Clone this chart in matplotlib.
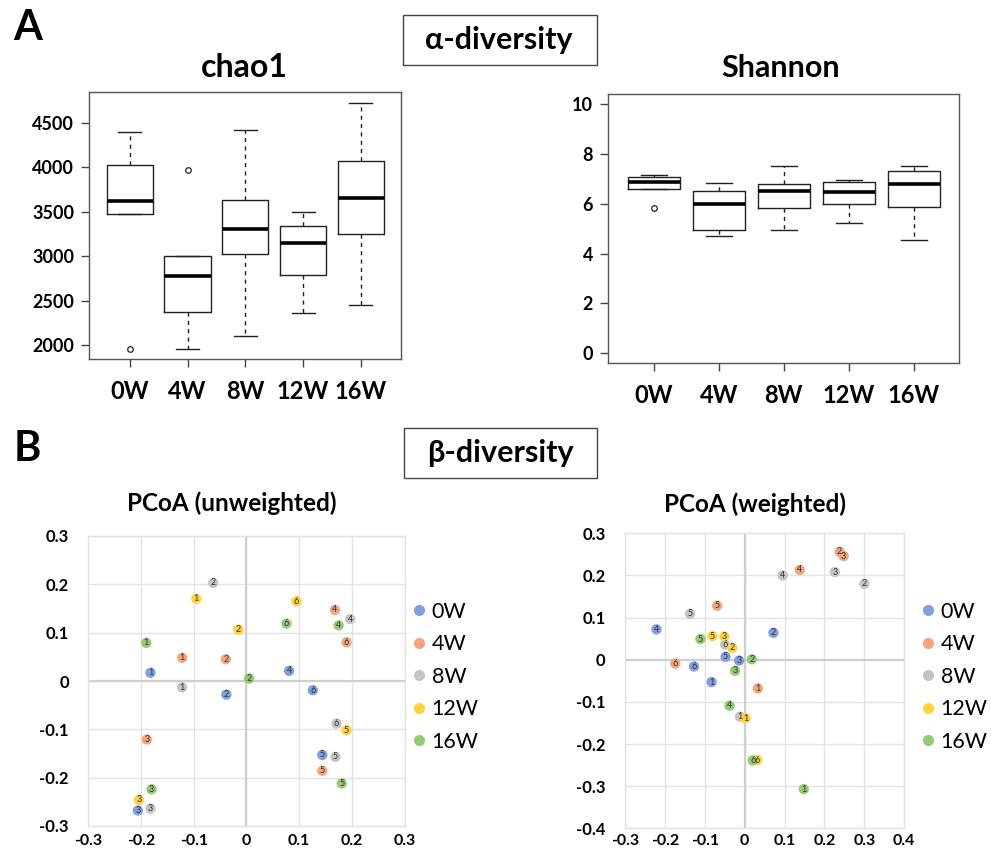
import matplotlib
matplotlib.use('Agg')
import matplotlib.pyplot as plt
from matplotlib.lines import Line2D
from matplotlib.patches import Rectangle

plt.rcParams['font.family'] = ['Lato', 'DejaVu Sans']

# ---------------- data ----------------
weeks = ['0W', '4W', '8W', '12W', '16W']

# chao1 box statistics
chao1_whislo = [3471, 1959, 2101, 2359, 2449]
chao1_q1 = [3471, 2371, 3022, 2790, 3254]
chao1_med = [3621, 2782, 3306, 3145, 3658]
chao1_q3 = [4021, 3007, 3632, 3336, 4074]
chao1_whishi = [4392, 3007, 4414, 3497, 4725]
chao1_fliers = [[1959], [3965], [], [], []]

# Shannon box statistics
shan_whislo = [6.58, 4.72, 4.93, 5.24, 4.54]
shan_q1 = [6.58, 4.96, 5.82, 5.97, 5.86]
shan_med = [6.88, 5.97, 6.50, 6.47, 6.81]
shan_q3 = [7.09, 6.49, 6.80, 6.89, 7.31]
shan_whishi = [7.17, 6.84, 7.53, 6.94, 7.51]
shan_fliers = [[5.82], [], [], [], []]

# PCoA (unweighted)
unw_0W_id = [1, 2, 3, 4, 5, 6]
unw_0W_x = [-0.182, -0.038, -0.206, 0.081, 0.144, 0.126]
unw_0W_y = [0.017, -0.028, -0.268, 0.021, -0.153, -0.019]
unw_4W_id = [1, 2, 3, 4, 5, 6]
unw_4W_x = [-0.122, -0.039, -0.189, 0.168, 0.144, 0.190]
unw_4W_y = [0.048, 0.045, -0.121, 0.147, -0.186, 0.080]
unw_8W_id = [1, 2, 3, 4, 5, 6]
unw_8W_x = [-0.122, -0.063, -0.182, 0.197, 0.169, 0.171]
unw_8W_y = [-0.013, 0.203, -0.264, 0.128, -0.157, -0.088]
unw_12W_id = [1, 2, 3, 5, 6]
unw_12W_x = [-0.095, -0.015, -0.204, 0.190, 0.095]
unw_12W_y = [0.170, 0.106, -0.246, -0.102, 0.165]
unw_16W_id = [1, 2, 3, 4, 5, 6]
unw_16W_x = [-0.190, 0.005, -0.180, 0.175, 0.181, 0.076]
unw_16W_y = [0.079, 0.005, -0.224, 0.115, -0.212, 0.119]

# PCoA (weighted)
w_0W_id = [1, 2, 3, 4, 5, 6]
w_0W_x = [-0.083, 0.072, -0.014, -0.221, -0.048, -0.127]
w_0W_y = [-0.053, 0.064, -0.002, 0.072, 0.007, -0.016]
w_4W_id = [1, 2, 3, 4, 5, 6]
w_4W_x = [0.033, 0.238, 0.248, 0.138, -0.069, -0.174]
w_4W_y = [-0.068, 0.256, 0.246, 0.213, 0.128, -0.009]
w_8W_id = [1, 2, 3, 4, 5, 6]
w_8W_x = [-0.012, 0.300, 0.226, 0.095, -0.137, -0.049]
w_8W_y = [-0.135, 0.180, 0.208, 0.200, 0.109, 0.036]
w_12W_id = [1, 2, 3, 5, 6]
w_12W_x = [0.002, -0.031, -0.051, -0.081, 0.032]
w_12W_y = [-0.139, 0.028, 0.055, 0.056, -0.238]
w_16W_id = [1, 2, 3, 4, 5, 6]
w_16W_x = [0.148, 0.018, -0.024, -0.038, -0.111, 0.020]
w_16W_y = [-0.307, 0.001, -0.026, -0.109, 0.049, -0.239]

group_colors = ['#7f9fe0', '#f5a57c', '#c4c4c4', '#ffd33a', '#94ca72']

unweighted = [(unw_0W_x, unw_0W_y, unw_0W_id), (unw_4W_x, unw_4W_y, unw_4W_id),
              (unw_8W_x, unw_8W_y, unw_8W_id), (unw_12W_x, unw_12W_y, unw_12W_id),
              (unw_16W_x, unw_16W_y, unw_16W_id)]
weighted = [(w_0W_x, w_0W_y, w_0W_id), (w_4W_x, w_4W_y, w_4W_id),
            (w_8W_x, w_8W_y, w_8W_id), (w_12W_x, w_12W_y, w_12W_id),
            (w_16W_x, w_16W_y, w_16W_id)]

# ---------------- figure ----------------
W, H = 991, 852
fig = plt.figure(figsize=(W / 100, H / 100), dpi=100)


def fax(l, t, r, b):
    return fig.add_axes([l / W, 1 - b / H, (r - l) / W, (b - t) / H])


def boxplot(ax, lo, q1, med, q3, hi, fl, ylim, yticks):
    stats = []
    for i in range(len(weeks)):
        stats.append(dict(whislo=lo[i], q1=q1[i], med=med[i], q3=q3[i],
                          whishi=hi[i], fliers=fl[i]))
    ax.bxp(stats, positions=range(1, len(weeks) + 1), widths=0.8,
           boxprops=dict(color='#222222', lw=1.0),
           whiskerprops=dict(color='#222222', lw=1.0, linestyle=(0, (3, 3))),
           capprops=dict(color='#222222', lw=1.0),
           medianprops=dict(color='black', lw=2.6),
           flierprops=dict(marker='o', markersize=4, mfc='none', mec='#222222', mew=0.9))
    ax.set_xlim(0.3, 5.7)
    ax.set_ylim(*ylim)
    ax.set_yticks(yticks)
    ax.set_yticklabels([str(t) for t in yticks], fontsize=13, fontweight='bold')
    ax.set_xticks(range(1, len(weeks) + 1))
    ax.set_xticklabels(weeks, fontsize=17, fontweight='bold')
    ax.tick_params(axis='both', direction='out', length=6, width=1, color='#444444')
    ax.tick_params(axis='x', pad=9)
    ax.tick_params(axis='y', pad=5)
    for s in ax.spines.values():
        s.set_color('#555555')
        s.set_linewidth(1.0)


ax1 = fax(89.3, 92.3, 401.3, 359.3)
boxplot(ax1, chao1_whislo, chao1_q1, chao1_med, chao1_q3, chao1_whishi, chao1_fliers,
        (1843, 4841), [2000, 2500, 3000, 3500, 4000, 4500])

ax2 = fax(608.3, 94, 959.3, 363.3)
boxplot(ax2, shan_whislo, shan_q1, shan_med, shan_q3, shan_whishi, shan_fliers,
        (-0.4, 10.4), [0, 2, 4, 6, 8, 10])


def pcoa(ax, data, xlim, ylim, xticks, yticks, xpad):
    ax.set_xlim(*xlim)
    ax.set_ylim(*ylim)
    ax.set_xticks(xticks)
    ax.set_yticks(yticks)
    ax.set_xticklabels(['0' if abs(t) < 1e-9 else '%.1f' % t for t in xticks],
                       fontsize=11.5, fontweight='bold')
    ax.set_yticklabels(['0' if abs(t) < 1e-9 else '%.1f' % t for t in yticks],
                       fontsize=12, fontweight='bold')
    ax.tick_params(axis='both', length=0)
    ax.tick_params(axis='y', pad=14)
    ax.tick_params(axis='x', pad=xpad)
    ax.grid(True, color='#e3e3e3', lw=1.0)
    ax.set_axisbelow(True)
    ax.axhline(0, color='#cfcfcf', lw=1.6, zorder=1)
    ax.axvline(0, color='#cfcfcf', lw=1.6, zorder=1)
    for s in ax.spines.values():
        s.set_color('#e3e3e3')
        s.set_linewidth(1.0)
    for (xs, ys, ids), c in zip(data, group_colors):
        ax.scatter(xs, ys, s=55, color=c, edgecolors='none', zorder=3)
        for x, y, i in zip(xs, ys, ids):
            ax.text(x, y, str(i), fontsize=6.5, color='#333333', ha='center',
                    va='center', zorder=4)


ax3 = fax(88.3, 536, 404.5, 826)
ticks3 = [-0.3, -0.2, -0.1, 0.0, 0.1, 0.2, 0.3]
pcoa(ax3, unweighted, (-0.3, 0.3), (-0.3, 0.3), ticks3, ticks3, 6)

ax4 = fax(625, 533.3, 904.3, 828.3)
pcoa(ax4, weighted, (-0.3, 0.4), (-0.4, 0.3),
     [-0.3, -0.2, -0.1, 0.0, 0.1, 0.2, 0.3, 0.4],
     [-0.4, -0.3, -0.2, -0.1, 0.0, 0.1, 0.2, 0.3], 4)

handles = [Line2D([], [], marker='o', linestyle='none', markersize=8,
                  markerfacecolor=c, markeredgecolor='none') for c in group_colors]
for ax, xpx in ((ax3, 410), (ax4, 919)):
    fig.legend(handles, weeks, loc='upper left',
               bbox_to_anchor=(xpx / W, 1 - 602 / H), frameon=False,
               fontsize=15.5, handletextpad=0.2, handlelength=0.8,
               labelspacing=0.58, borderpad=0, borderaxespad=0)

# ---------------- figure texts ----------------
fig.text(28 / W, 1 - 28 / H, 'A', fontsize=30, fontweight='bold', ha='center', va='center')
fig.text(27 / W, 1 - 449 / H, 'B', fontsize=30, fontweight='bold', ha='center', va='center')

fig.patches.append(Rectangle((402.7 / W, 1 - 65 / H), 194 / W, 50 / H, transform=fig.transFigure,
                             fill=False, edgecolor='#444444', lw=1.0))
fig.text(499 / W, 1 - 40 / H, 'α-diversity', fontsize=22, fontweight='bold',
         ha='center', va='center')
fig.patches.append(Rectangle((404 / W, 1 - 477.7 / H), 193.3 / W, 49.4 / H,
                             transform=fig.transFigure, fill=False, edgecolor='#444444', lw=1.0))
fig.text(500 / W, 1 - 453 / H, 'β-diversity', fontsize=22, fontweight='bold',
         ha='center', va='center')

fig.text(244 / W, 1 - 77 / H, 'chao1', fontsize=23, fontweight='bold', ha='center', va='baseline')
fig.text(781 / W, 1 - 77 / H, 'Shannon', fontsize=22, fontweight='bold', ha='center', va='baseline')
fig.text(232 / W, 1 - 511 / H, 'PCoA (unweighted)', fontsize=17.5, fontweight='bold',
         ha='center', va='baseline')
fig.text(755 / W, 1 - 512 / H, 'PCoA (weighted)', fontsize=17.5, fontweight='bold',
         ha='center', va='baseline')

fig.savefig('out.png', dpi=100)
